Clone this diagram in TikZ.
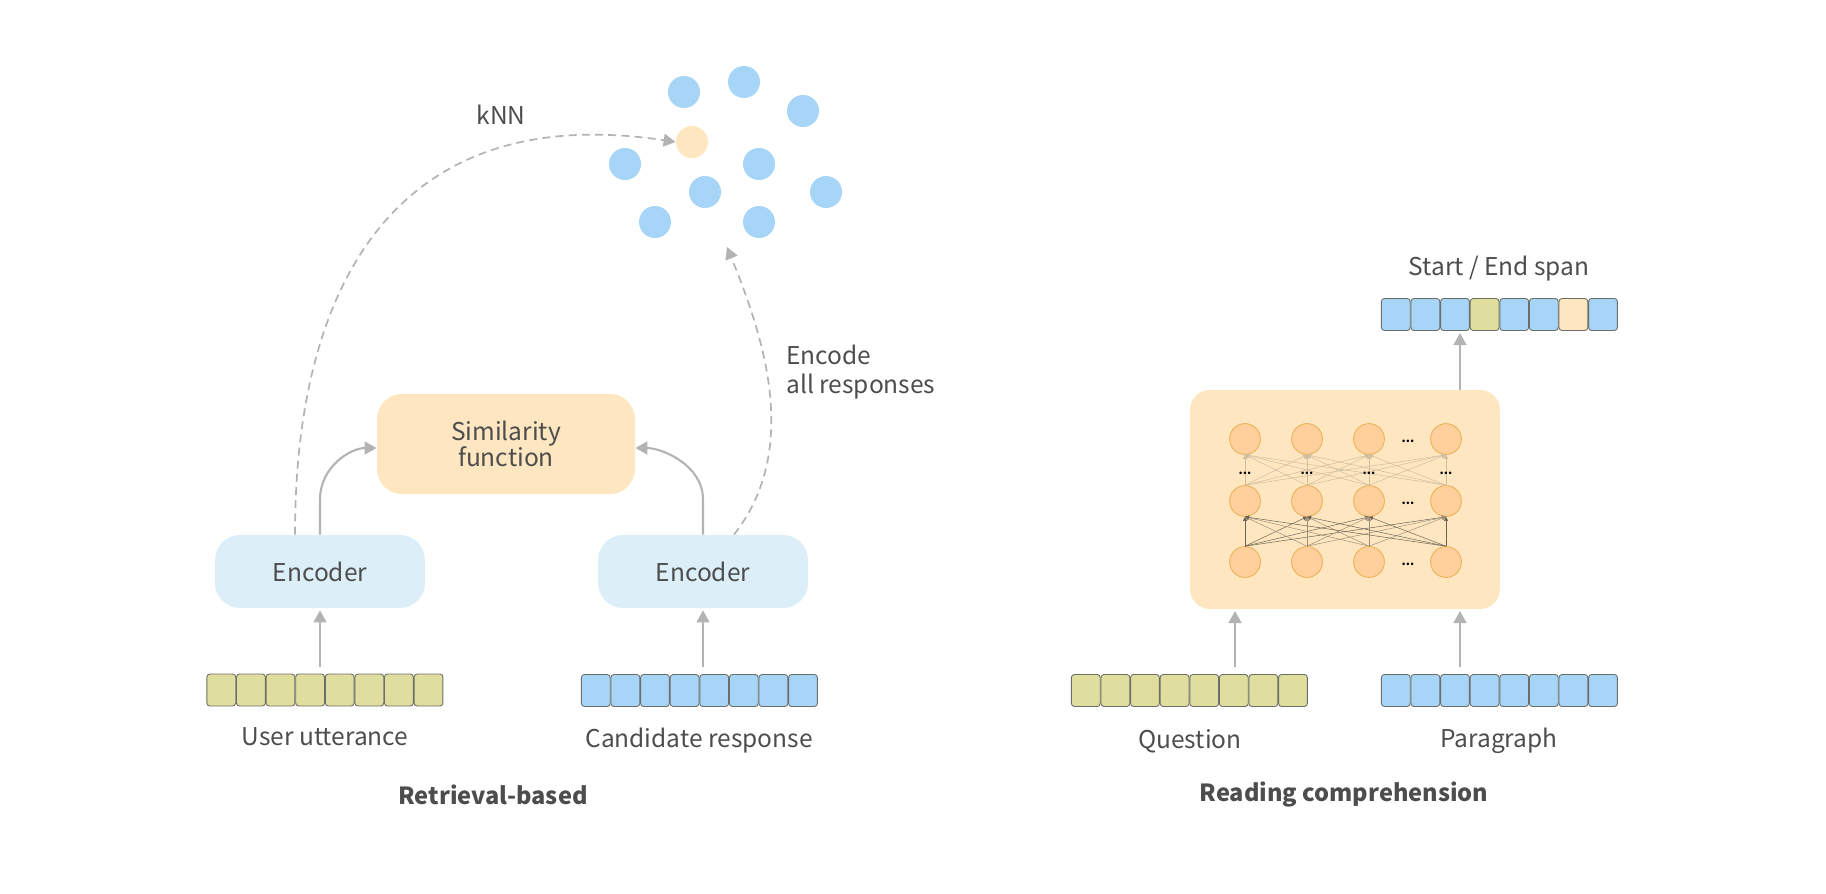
\documentclass[tikz,border=0pt]{standalone}
\usepackage{fontspec}
\setmainfont{Noto Sans CJK SC}
\usetikzlibrary{arrows.meta}
\definecolor{txt}{HTML}{4D4D4D}
\definecolor{olivecell}{HTML}{E0DE9E}
\definecolor{bluecell}{HTML}{A6D5F8}
\definecolor{peachcell}{HTML}{FDE6C0}
\definecolor{encfill}{HTML}{DCEEF8}
\definecolor{neuron}{HTML}{FFD09B}
\definecolor{neuronline}{HTML}{EBAE50}
\definecolor{arrowgray}{HTML}{B3B3B3}
\definecolor{cellline}{HTML}{6E6E68}
\tikzset{
  x=0.5pt, y=-0.5pt,
  label/.style={text=txt, font=\fontsize{12.25}{14}\selectfont, inner sep=0pt},
  title/.style={label, font=\fontsize{11.8}{14}\selectfont\bfseries},
  encoderbox/.style={label, fill=encfill, rounded corners=12.5pt, minimum width=105pt, minimum height=36.5pt},
  simbox/.style={label, fill=peachcell, rounded corners=12.5pt, minimum width=129pt, minimum height=50pt, align=center},
  netbox/.style={fill=peachcell, rounded corners=10pt, minimum width=155pt, minimum height=109.5pt, inner sep=0pt},
  cell/.style={draw=cellline, line width=0.45pt, rounded corners=1.5pt, minimum width=14.4pt, minimum height=16pt, inner sep=0pt, fill=#1},
  dot/.style={circle, fill=#1, minimum size=16pt, inner sep=0pt},
  unit/.style={circle, draw=neuronline, line width=0.4pt, fill=neuron, minimum size=15.4pt, inner sep=0pt},
  arr/.style={draw=arrowgray, line width=1.05pt, -{Triangle[length=6pt,width=6.4pt,fill=arrowgray]}},
  dasharr/.style={draw=arrowgray, line width=0.85pt, dash pattern=on 4pt off 2.6pt, -{Triangle[length=6pt,width=6.4pt,fill=arrowgray]}},
  wire/.style={line width=0.24pt, draw=#1, -{Triangle[length=2pt,width=2pt]}},
  dots/.style={text=black, font=\fontsize{6}{6}\selectfont\bfseries, inner sep=0pt},
}
\begin{document}
\begin{tikzpicture}
\useasboundingbox (0,0) rectangle (1826,894);

% Embedding space: response points and the query point
\foreach \n/\x/\y in {d1/684/92, d2/744/82, d3/803/111, d4/625/164, d5/759/164, d6/705/192, d7/826/192, d8/655/222, d9/759/222}
  \node[dot=bluecell] (\n) at (\x,\y) {};
\node[dot=peachcell] (query) at (692,142) {};

% Retrieval-based model
\node[encoderbox] (encL) at (320,571.5) {\raisebox{-1.2pt}{Encoder}};
\node[encoderbox] (encR) at (703,571.5) {\raisebox{-1.2pt}{Encoder}};
\node[simbox] (sim) at (506,444) {Similarity\\[-0.6pt]function};

% Token sequences
\foreach \i in {1,...,8} {
  \node[cell=olivecell] (u\i) at ({206.5+14.8+(\i-1)*29.6},690) {};
  \node[cell=bluecell]  (c\i) at ({581+14.8+(\i-1)*29.6},690.5) {};
  \node[cell=olivecell] (q\i) at ({1071+14.8+(\i-1)*29.6},690.5) {};
  \node[cell=bluecell]  (r\i) at ({1381+14.8+(\i-1)*29.6},690.5) {};
}
\foreach \i/\c in {1/bluecell,2/bluecell,3/bluecell,4/olivecell,5/bluecell,6/bluecell,7/peachcell,8/bluecell}
  \node[cell=\c] (s\i) at ({1381+14.8+(\i-1)*29.6},314.5) {};

\node[label] (lblUser) at (325,737) {User utterance};
\node[label] (lblCand) at (699,741) {Candidate response};
\node[title] (lblRetr) at (493,795) {Retrieval-based};
\node[label] (lblKnn) at (501,115) {kNN};
\node[label, align=left, anchor=west] (lblAll) at (786,372) {Encode\\[0.2pt]all responses};

\coordinate (uIn) at (320,667);
\coordinate (cIn) at (703,667);
\coordinate (candTip) at (727,247);
\draw[arr, shorten >=1pt] (uIn) -- (encL.south);
\draw[arr, shorten >=1pt] (cIn) -- (encR.south);
\draw[arr] (encL.north) -- ++(0,-35) .. controls +(0,-33) and ([xshift=-13pt,yshift=-2pt]sim.west) .. ([yshift=-2pt]sim.west);
\draw[arr] (encR.north) -- ++(0,-35) .. controls +(0,-35) and ([xshift=13pt,yshift=-2pt]sim.east) .. ([yshift=-2pt]sim.east);
\draw[dasharr] ([xshift=-12.5pt]encL.north) .. controls +(0,-254) and +(-277,-42) .. (query.west);
\draw[dasharr] ([xshift=15.5pt]encR.north) .. controls +(66,-84) and +(38,93) .. (candTip);

% Reading comprehension model
\node[netbox] (net) at (1345,499.5) {};
\foreach \k/\x in {1/1245,2/1307,3/1369,4/1446} {
  \node[unit] (t\k) at (\x,439) {};
  \node[unit] (m\k) at (\x,501) {};
  \node[unit] (b\k) at (\x,562) {};
}
% Fully connected layers: outer units of the lower pair read darkest
\foreach \i/\w in {1/58,2/38,3/38,4/58} \foreach \j in {1,...,4} {
  \draw[wire=black!\w!peachcell] (b\i.north) -- (m\j.south);
  \draw[wire=black!18!peachcell] (m\i.north) -- (t\j.south);
}
\foreach \y in {441,503,564} \node[dots] (gap\y) at (1408,\y) {...};
\foreach \k/\x in {1/1245,2/1307,3/1369,4/1446} \node[dots] (mid\k) at (\x,473) {...};

\coordinate (qIn) at (1235,667);
\coordinate (pIn) at (1460,667);
\coordinate (netTop) at (1460,390);
\coordinate (netQ) at (1235,609);
\coordinate (netP) at (1460,609);
\coordinate (spanIn) at (1460,331);
\draw[arr, shorten >=1pt] (qIn) -- (netQ);
\draw[arr, shorten >=1pt] (pIn) -- (netP);
\draw[arr, shorten >=1pt] (netTop) -- (spanIn);

\node[label] (lblQ) at (1190,741) {Question};
\node[label] (lblP) at (1499,741) {Paragraph};
\node[label] (lblS) at (1499,269) {Start / End span};
\node[title] (lblR) at (1344,795) {Reading comprehension};
\end{tikzpicture}
\end{document}
